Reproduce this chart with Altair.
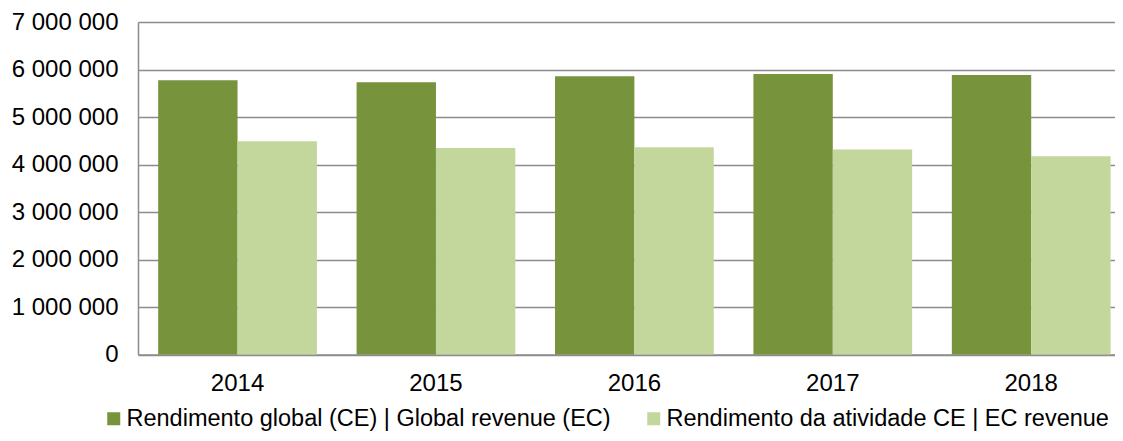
import altair as alt
import pandas as pd

years = ["2014", "2015", "2016", "2017", "2018"]
global_rev = [5775000, 5730000, 5860000, 5905000, 5885000]
ec_rev = [4490000, 4350000, 4365000, 4315000, 4175000]
series = ["Rendimento global (CE) | Global revenue (EC)",
          "Rendimento da atividade CE | EC revenue"]
colors = ["#77933C", "#C3D69B"]
y_ticks = [0, 1000000, 2000000, 3000000, 4000000, 5000000, 6000000, 7000000]

rows = []
for i, y in enumerate(years):
    rows.append({"year": y, "series": series[0], "value": global_rev[i]})
    rows.append({"year": y, "series": series[1], "value": ec_rev[i]})
df = pd.DataFrame(rows)

FONT = "Liberation Sans"
FS = 24

chart = alt.Chart(df).mark_bar().encode(
    x=alt.X("year:N", sort=years,
            scale=alt.Scale(paddingInner=0.2, paddingOuter=0.062, align=0.82),
            axis=alt.Axis(title=None, labelAngle=0, ticks=False, grid=False,
                          labelFontSize=FS, labelPadding=17, labelColor="#000000",
                          domainColor="#8c8c8c", domainWidth=1.5)),
    xOffset=alt.XOffset("series:N", sort=series,
                        scale=alt.Scale(paddingInner=0, paddingOuter=0)),
    y=alt.Y("value:Q", scale=alt.Scale(domain=[0, 7000000]),
            axis=alt.Axis(title=None, values=y_ticks, ticks=False,
                          labelExpr="replace(format(datum.value, ','), /,/g, ' ')",
                          labelFontSize=FS, labelPadding=20, labelColor="#000000",
                          grid=True, gridColor="#8c8c8c", gridWidth=1.5,
                          domainColor="#8c8c8c", domainWidth=1.5)),
    color=alt.Color("series:N",
                    scale=alt.Scale(domain=series, range=colors),
                    legend=alt.Legend(orient="none", legendX=-36, legendY=385,
                                      title=None, direction="horizontal",
                                      symbolType="square", symbolSize=169,
                                      symbolStrokeWidth=0, gridAlign="none",
                                      labelFontSize=23.5, labelLimit=0, labelColor="#000000",
                                      labelOffset=1, columnPadding=31, padding=0)),
).properties(
    width=977, height=332.5,
    padding={"left": 3, "top": 2, "right": 0, "bottom": 0},
).configure(font=FONT).configure_view(stroke=None)

chart.save("out.html", embed_options={"renderer": "svg", "actions": False})
